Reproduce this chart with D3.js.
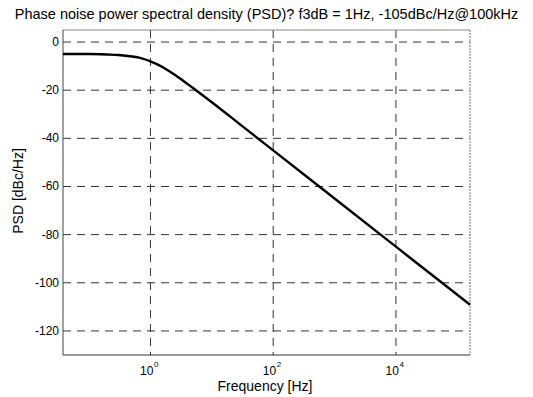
<!DOCTYPE html>
<html>
<head>
<meta charset="utf-8">
<script src="https://cdn.jsdelivr.net/npm/d3@7"></script>
<style>
  body { margin: 0; background: #fff; }
  text { font-family: "Liberation Sans", Arial, sans-serif; fill: #000; }
</style>
</head>
<body>
<div id="chart"></div>
<script>
// values
const freqHz = [0.0376, 0.1, 0.2, 0.3, 0.5, 0.7, 1, 1.5, 2, 3, 5, 7, 10, 20, 50, 100, 1000, 10000, 100000, 161000];
const psdDb  = [-5.0, -5.0, -5.2, -5.4, -6.0, -6.7, -8.0, -10.1, -12.0, -15.0, -19.2, -22.0, -25.0, -31.0, -39.0, -45.0, -65.0, -85.0, -105.0, -109.1];
const xTicks = [1, 100, 10000];
const xTickExp = ["0", "2", "4"];
const yTicks = [0, -20, -40, -60, -80, -100, -120];

const W = 533, H = 397;
const plotL = 63, plotR = 470, plotT = 30, plotB = 355;

const svg = d3.select("#chart")
    .append("svg")
    .attr("width", W)
    .attr("height", H);

const x = d3.scaleLog()
    .domain([0.0376, 161000])
    .range([plotL, plotR]);

const y = d3.scaleLinear()
    .domain([-130, 5])
    .range([plotB, plotT]);

// grid
svg.append("g")
    .selectAll("line")
    .data(yTicks)
    .enter()
    .append("line")
    .attr("x1", plotL).attr("x2", plotR)
    .attr("y1", d => y(d)).attr("y2", d => y(d))
    .attr("stroke", "#333")
    .attr("stroke-width", 1)
    .attr("stroke-dasharray", "8,6");

svg.append("g")
    .selectAll("line")
    .data(xTicks)
    .enter()
    .append("line")
    .attr("x1", d => x(d)).attr("x2", d => x(d))
    .attr("y1", plotT).attr("y2", plotB)
    .attr("stroke", "#333")
    .attr("stroke-width", 1)
    .attr("stroke-dasharray", "8,6");

// frame
svg.append("line").attr("x1", plotL).attr("x2", plotR).attr("y1", plotT).attr("y2", plotT)
    .attr("stroke", "#888").attr("stroke-width", 1);
svg.append("line").attr("x1", plotR).attr("x2", plotR).attr("y1", plotT).attr("y2", plotB)
    .attr("stroke", "#777").attr("stroke-width", 1).attr("stroke-dasharray", "2,1");
svg.append("line").attr("x1", plotL).attr("x2", plotL).attr("y1", plotT).attr("y2", plotB)
    .attr("stroke", "#444").attr("stroke-width", 1);
svg.append("line").attr("x1", plotL).attr("x2", plotR).attr("y1", plotB).attr("y2", plotB)
    .attr("stroke", "#333").attr("stroke-width", 1);

// y tick labels
svg.append("g")
    .selectAll("text")
    .data(yTicks)
    .enter()
    .append("text")
    .attr("x", plotL - 4)
    .attr("y", d => y(d) + 4)
    .attr("text-anchor", "end")
    .style("font-size", "12px")
    .text(d => d);

// x tick labels 10^n
const xl = svg.append("g")
    .selectAll("g")
    .data(xTicks)
    .enter()
    .append("g");
xl.append("text")
    .attr("x", d => x(d) + 3)
    .attr("y", 375)
    .attr("text-anchor", "end")
    .style("font-size", "12px")
    .text("10");
xl.append("text")
    .attr("x", (d) => x(d) + 3.5)
    .attr("y", 367)
    .style("font-size", "8px")
    .text((d, i) => xTickExp[i]);

// curve
const line = d3.line()
    .x((d, i) => x(freqHz[i]))
    .y(d => y(d))
    .curve(d3.curveMonotoneX);

svg.append("path")
    .datum(psdDb)
    .attr("d", line)
    .attr("fill", "none")
    .attr("stroke", "#000")
    .attr("stroke-width", 2.4);

// title
svg.append("text")
    .attr("x", (plotL + plotR) / 2)
    .attr("y", 19)
    .attr("text-anchor", "middle")
    .style("font-size", "14.5px")
    .text("Phase noise power spectral density (PSD)? f3dB = 1Hz, -105dBc/Hz@100kHz");

// x label
svg.append("text")
    .attr("x", 265)
    .attr("y", 391)
    .attr("text-anchor", "middle")
    .style("font-size", "14px")
    .text("Frequency [Hz]");

// y label
svg.append("text")
    .attr("transform", "translate(23,191) rotate(-90)")
    .attr("text-anchor", "middle")
    .style("font-size", "14px")
    .text("PSD [dBc/Hz]");
</script>
</body>
</html>
